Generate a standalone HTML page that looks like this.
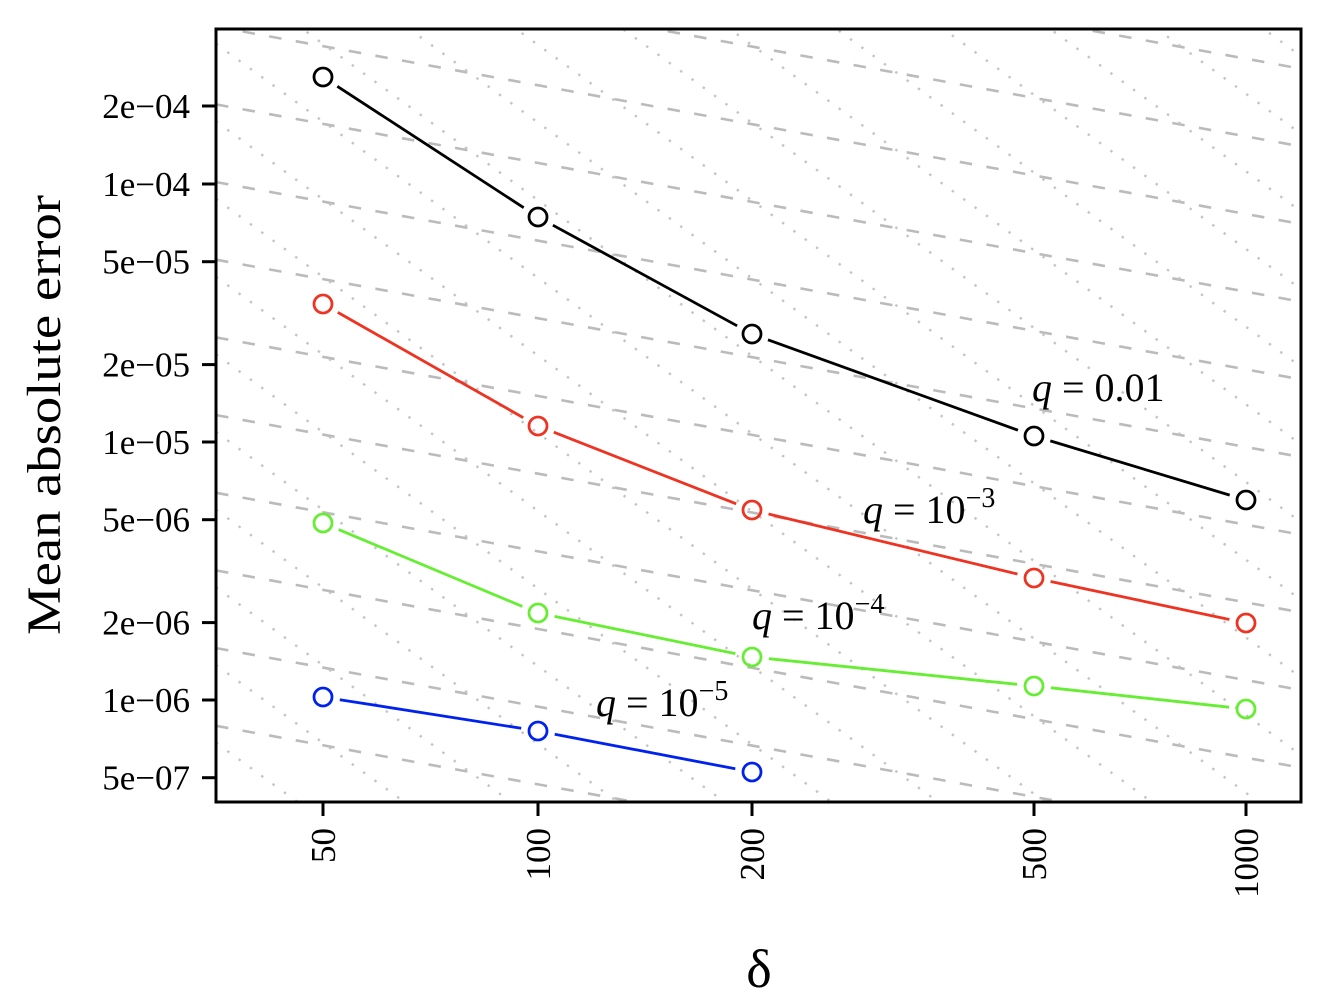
<!DOCTYPE html>
<html><head><meta charset="utf-8"><style>
html,body{margin:0;padding:0;background:#fff;width:1330px;height:1004px;overflow:hidden}
svg{display:block}
text{font-family:"Liberation Serif","Times New Roman",serif;fill:#000}
</style></head><body>
<svg width="1330" height="1004" viewBox="0 0 1330 1004" xmlns="http://www.w3.org/2000/svg">
<defs><clipPath id="c"><rect x="216" y="29" width="1085" height="773"/></clipPath></defs>
<g clip-path="url(#c)">
<g stroke="#bbbbbb" stroke-width="2.6" stroke-dasharray="12.5 14.5" fill="none">
<line x1="216" y1="-128.6" x2="1301" y2="68.7"/>
<line x1="216" y1="-50.9" x2="1301" y2="146.4"/>
<line x1="216" y1="26.7" x2="1301" y2="224.0"/>
<line x1="216" y1="104.4" x2="1301" y2="301.7"/>
<line x1="216" y1="182.1" x2="1301" y2="379.4"/>
<line x1="216" y1="259.7" x2="1301" y2="457.0"/>
<line x1="216" y1="337.4" x2="1301" y2="534.7"/>
<line x1="216" y1="415.1" x2="1301" y2="612.4"/>
<line x1="216" y1="492.8" x2="1301" y2="690.1"/>
<line x1="216" y1="570.4" x2="1301" y2="767.7"/>
<line x1="216" y1="648.1" x2="1301" y2="845.4"/>
<line x1="216" y1="725.8" x2="1301" y2="923.1"/>
</g>
<g stroke="#c4c4c4" stroke-width="2.4" stroke-dasharray="2.4 11.6" fill="none">
<line x1="216" y1="-733.0" x2="1301" y2="56.1"/>
<line x1="216" y1="-655.3" x2="1301" y2="133.8"/>
<line x1="216" y1="-577.7" x2="1301" y2="211.4"/>
<line x1="216" y1="-500.0" x2="1301" y2="289.1"/>
<line x1="216" y1="-422.3" x2="1301" y2="366.8"/>
<line x1="216" y1="-344.7" x2="1301" y2="444.4"/>
<line x1="216" y1="-267.0" x2="1301" y2="522.1"/>
<line x1="216" y1="-189.3" x2="1301" y2="599.8"/>
<line x1="216" y1="-111.6" x2="1301" y2="677.5"/>
<line x1="216" y1="-34.0" x2="1301" y2="755.1"/>
<line x1="216" y1="43.7" x2="1301" y2="832.8"/>
<line x1="216" y1="121.4" x2="1301" y2="910.5"/>
<line x1="216" y1="199.0" x2="1301" y2="988.1"/>
<line x1="216" y1="276.7" x2="1301" y2="1065.8"/>
<line x1="216" y1="354.4" x2="1301" y2="1143.5"/>
<line x1="216" y1="432.0" x2="1301" y2="1221.1"/>
<line x1="216" y1="509.7" x2="1301" y2="1298.8"/>
<line x1="216" y1="587.4" x2="1301" y2="1376.5"/>
<line x1="216" y1="665.0" x2="1301" y2="1454.1"/>
<line x1="216" y1="742.7" x2="1301" y2="1531.8"/>
</g>
</g>
<g fill="none" stroke-width="2.8">
<g stroke="#000">
<line x1="337.3" y1="86.3" x2="523.7" y2="207.7"/>
<line x1="552.9" y1="225.2" x2="737.1" y2="325.8"/>
<line x1="768" y1="339.8" x2="1018" y2="430.2"/>
<line x1="1050.3" y1="440.9" x2="1229.7" y2="495.1"/>
<circle cx="323" cy="77" r="9"/><circle cx="538" cy="217" r="9"/><circle cx="752" cy="334" r="9"/><circle cx="1034" cy="436" r="9"/><circle cx="1246" cy="500" r="9"/>
</g>
<g stroke="#ee3322">
<line x1="337.8" y1="312.4" x2="523.2" y2="417.6"/>
<line x1="553.8" y1="432.2" x2="736.2" y2="503.8"/>
<line x1="768.5" y1="514" x2="1017.5" y2="574"/>
<line x1="1050.6" y1="581.5" x2="1229.4" y2="619.5"/>
<circle cx="323" cy="304" r="9"/><circle cx="538" cy="426" r="9"/><circle cx="752" cy="510" r="9"/><circle cx="1034" cy="578" r="9"/><circle cx="1246" cy="623" r="9"/>
</g>
<g stroke="#66ee33">
<line x1="338.7" y1="529.6" x2="522.3" y2="606.4"/>
<line x1="554.6" y1="616.4" x2="735.4" y2="653.6"/>
<line x1="768.9" y1="658.7" x2="1017.1" y2="684.3"/>
<line x1="1050.9" y1="687.8" x2="1229.1" y2="707.2"/>
<circle cx="323" cy="523" r="9"/><circle cx="538" cy="613" r="9"/><circle cx="752" cy="657" r="9"/><circle cx="1034" cy="686" r="9"/><circle cx="1246" cy="709" r="9"/>
</g>
<g stroke="#0022ee">
<line x1="339.8" y1="699.7" x2="521.2" y2="728.3"/>
<line x1="554.7" y1="734.2" x2="735.3" y2="768.8"/>
<circle cx="323" cy="697" r="9"/><circle cx="538" cy="731" r="9"/><circle cx="752" cy="772" r="9"/>
</g>
</g>
<g font-size="40">
<text x="1032" y="401"><tspan font-style="italic">q</tspan> = 0.01</text>
<text x="863" y="523"><tspan font-style="italic">q</tspan> = 10<tspan font-size="28" dy="-16">−3</tspan></text>
<text x="752" y="629"><tspan font-style="italic">q</tspan> = 10<tspan font-size="28" dy="-16">−4</tspan></text>
<text x="596" y="716"><tspan font-style="italic">q</tspan> = 10<tspan font-size="28" dy="-16">−5</tspan></text>
</g>
<rect x="216" y="29" width="1085" height="773" fill="none" stroke="#000" stroke-width="3"/>
<g stroke="#000" stroke-width="3">
<line x1="202" y1="106" x2="216" y2="106"/>
<line x1="202" y1="184" x2="216" y2="184"/>
<line x1="202" y1="261.7" x2="216" y2="261.7"/>
<line x1="202" y1="364.6" x2="216" y2="364.6"/>
<line x1="202" y1="442" x2="216" y2="442"/>
<line x1="202" y1="519.7" x2="216" y2="519.7"/>
<line x1="202" y1="622.6" x2="216" y2="622.6"/>
<line x1="202" y1="700" x2="216" y2="700"/>
<line x1="202" y1="777.7" x2="216" y2="777.7"/>
<line x1="323" y1="802" x2="323" y2="816"/>
<line x1="538" y1="802" x2="538" y2="816"/>
<line x1="752" y1="802" x2="752" y2="816"/>
<line x1="1034" y1="802" x2="1034" y2="816"/>
<line x1="1246" y1="802" x2="1246" y2="816"/>
</g>
<g font-size="35" text-anchor="end">
<text x="190" y="118">2e−04</text>
<text x="190" y="196">1e−04</text>
<text x="190" y="273.7">5e−05</text>
<text x="190" y="376.6">2e−05</text>
<text x="190" y="454">1e−05</text>
<text x="190" y="531.7">5e−06</text>
<text x="190" y="634.6">2e−06</text>
<text x="190" y="712">1e−06</text>
<text x="190" y="789.7">5e−07</text>
</g>
<g font-size="35" text-anchor="end">
<text transform="translate(335,828) rotate(-90)">50</text>
<text transform="translate(550,828) rotate(-90)">100</text>
<text transform="translate(764,828) rotate(-90)">200</text>
<text transform="translate(1046,828) rotate(-90)">500</text>
<text transform="translate(1258,828) rotate(-90)">1000</text>
</g>
<text x="759" y="987" font-size="54" text-anchor="middle">δ</text>
<text transform="translate(60,415) rotate(-90)" font-size="48" text-anchor="middle" textLength="440" lengthAdjust="spacingAndGlyphs">Mean absolute error</text>
</svg>
</body></html>
